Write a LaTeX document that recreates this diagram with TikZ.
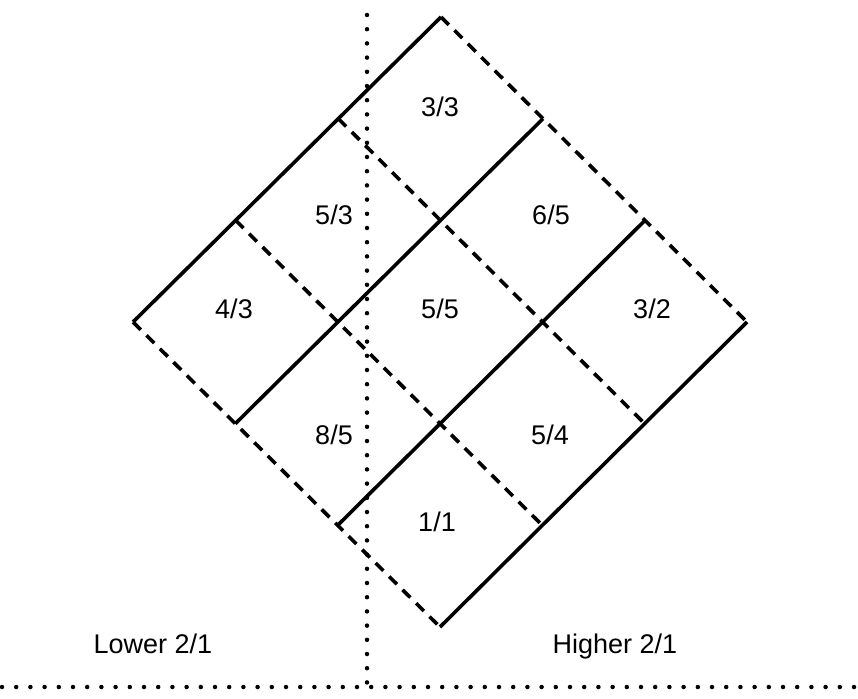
\documentclass[tikz,border=0pt]{standalone}
\usepackage{fontspec}
\setmainfont{Liberation Sans}
\usetikzlibrary{calc}
\begin{document}
\begin{tikzpicture}[x=1pt,y=-1pt,
  solidedge/.style={line width=3.6pt,line cap=butt},
  dashedge/.style={line width=3.6pt,dash pattern=on 11pt off 8pt},
  dotline/.style={line width=4.5pt,line cap=round,dash pattern=on 0pt off 14.2pt},
  lab/.style={font=\fontsize{27}{31}\selectfont,inner sep=0pt}]
\useasboundingbox (0,0) rectangle (858,698);
% corners
\coordinate (T) at (441,17);
\coordinate (L) at (133,322);
\coordinate (R) at (747,322);
\coordinate (B) at (440,627);
% edge divisions
\coordinate (TL1) at ($(L)!1/3!(T)$);
\coordinate (TL2) at ($(L)!2/3!(T)$);
\coordinate (BR1) at ($(B)!1/3!(R)$);
\coordinate (BR2) at ($(B)!2/3!(R)$);
\coordinate (TR1) at ($(T)!1/3!(R)$);
\coordinate (TR2) at ($(T)!2/3!(R)$);
\coordinate (LB1) at ($(L)!1/3!(B)$);
\coordinate (LB2) at ($(L)!2/3!(B)$);
% dotted reference lines
\coordinate (vtop) at (367,15);
\coordinate (vbot) at (367,687);
\coordinate (hl) at (2,687);
\coordinate (hr) at (858,687);
\draw[dotline] (vtop) -- (vbot);
\draw[dotline] (hl) -- (hr);
% dashed lines (NW-SE)
\draw[dashedge] (T) -- (R);
\draw[dashedge] (TL2) -- (BR2);
\draw[dashedge] (TL1) -- (BR1);
\draw[dashedge] (L) -- (B);
% solid lines (SW-NE)
\draw[solidedge] (L) -- (T);
\draw[solidedge] (LB1) -- (TR1);
\draw[solidedge] (LB2) -- (TR2);
\draw[solidedge] (B) -- (R);
% labels
\node[lab] (c33) at (440,107) {3/3};
\node[lab] (c53) at (334,215) {5/3};
\node[lab] (c65) at (551,215) {6/5};
\node[lab] (c43) at (234,309) {4/3};
\node[lab] (c55) at (440,309) {5/5};
\node[lab] (c32) at (652,309) {3/2};
\node[lab] (c85) at (334,435) {8/5};
\node[lab] (c54) at (550,435) {5/4};
\node[lab] (c11) at (437,522) {1/1};
\node[lab,anchor=base] (lower) at (153,653) {Lower 2/1};
\node[lab,anchor=base] (higher) at (615,653) {Higher 2/1};
\end{tikzpicture}
\end{document}
